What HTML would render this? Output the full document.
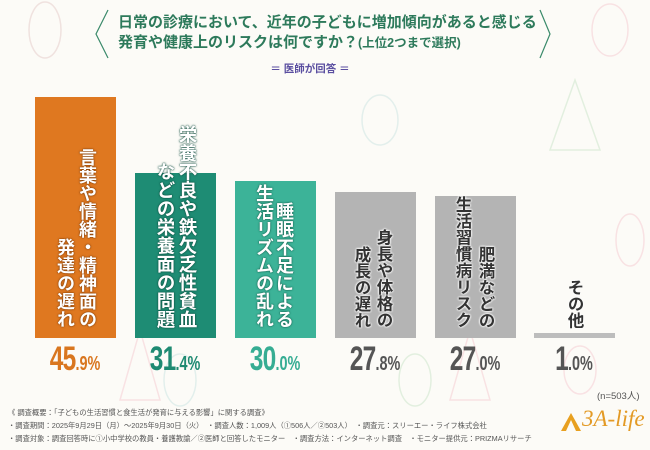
<!DOCTYPE html>
<html><head><meta charset="utf-8"><style>
*{margin:0;padding:0;box-sizing:border-box}
body{width:650px;height:450px;overflow:hidden;background:#fcfbf7;font-family:"Liberation Sans","Noto Sans CJK JP",sans-serif;position:relative}
.a{position:absolute}
.bar{position:absolute;bottom:112px;width:81px}
.vt{position:absolute;writing-mode:vertical-rl;text-align:end;font-weight:bold;white-space:pre;bottom:122px;letter-spacing:0}
.w{color:#fff}
.g{color:#333;text-shadow:0 0 2px #fff,0 0 2px #fff,0 0 2px #fff}
.pc{position:absolute;top:340px;width:100px;text-align:center;font-weight:bold;transform:scaleX(.72);white-space:nowrap}
.pc b{font-size:34px;letter-spacing:-1px}
.pc i{font-style:normal;font-size:20px}
.f{position:absolute;left:8px;font-size:7.3px;color:#555;white-space:nowrap}
</style></head><body>
<svg class="a" style="left:0;top:0" width="650" height="450">
<g fill="none" stroke-width="1.5" opacity=".25">
<ellipse cx="45" cy="30" rx="16" ry="28" stroke="#c99"/>
<ellipse cx="610" cy="30" rx="18" ry="26" stroke="#e9a"/>
<path d="M575 80 L600 150 L550 150Z" stroke="#9c9"/>
<ellipse cx="380" cy="120" rx="18" ry="25" stroke="#9cc"/>
<ellipse cx="630" cy="240" rx="14" ry="26" stroke="#e9a"/>
<path d="M140 330 L160 400 L120 400Z" stroke="#e9a"/>
<ellipse cx="180" cy="380" rx="16" ry="26" stroke="#9cc"/>
<ellipse cx="415" cy="380" rx="16" ry="26" stroke="#9c9"/>
<path d="M470 330 L490 400 L450 400Z" stroke="#e9a"/>
<ellipse cx="580" cy="370" rx="16" ry="24" stroke="#e9a"/>
</g>
<path d="M108 10 L96 34 L108 58" stroke="#3a8a6a" stroke-width="1.2" fill="none"/>
<path d="M540 10 L550 34 L540 58" stroke="#3a8a6a" stroke-width="1.2" fill="none"/>
</svg>
<div class="a" style="left:118px;top:13px;font-size:15px;font-weight:bold;color:#2d7a5b;line-height:20px;white-space:nowrap">日常の診療において、近年の子どもに増加傾向があると感じる<br>発育や健康上のリスクは何ですか？<span style="font-size:12.5px">(上位2つまで選択)</span></div>
<div class="a" style="left:0;width:650px;top:61px;text-align:center;font-size:10.5px;color:#5a4ea0;font-weight:bold;padding-right:30px">＝ 医師が回答 ＝</div>

<div class="bar" style="left:35px;height:241px;background:#df7820"></div>
<div class="bar" style="left:135px;height:165px;background:#1e8c74"></div>
<div class="bar" style="left:235px;height:157px;background:#3cb398"></div>
<div class="bar" style="left:335px;height:146px;background:#b4b4b4"></div>
<div class="bar" style="left:435px;height:142px;background:#b4b4b4"></div>
<div class="bar" style="left:534px;height:5px;background:#bdbdbd"></div>

<div class="vt w" style="right:552px;font-size:18px;line-height:22px;text-shadow:0 0 2px #7a3a08,0 0 1px #7a3a08">言葉や情緒・精神面の
発達の遅れ</div>
<div class="vt w" style="right:452px;font-size:18.5px;line-height:22px;text-shadow:0 0 2px #0d4a3c,0 0 1px #0d4a3c">栄養不良や鉄欠乏性貧血
などの栄養面の問題</div>
<div class="vt w" style="right:356px;font-size:18px;line-height:20px;text-shadow:0 0 2px #16614f,0 0 1px #16614f">睡眠不足による
生活リズムの乱れ</div>
<div class="vt g" style="right:256px;font-size:16.5px;line-height:22px">身長や体格の
成長の遅れ</div>
<div class="vt g" style="right:154px;font-size:16.5px;line-height:23px">肥満などの
生活習慣病リスク</div>
<div class="vt g" style="right:66px;font-size:16.5px;line-height:20px">その他</div>

<div class="pc" style="left:25px;color:#d9761f"><b>45</b><i>.9%</i></div>
<div class="pc" style="left:125px;color:#1e8a72"><b>31</b><i>.4%</i></div>
<div class="pc" style="left:225px;color:#36ad93"><b>30</b><i>.0%</i></div>
<div class="pc" style="left:325px;color:#555"><b>27</b><i>.8%</i></div>
<div class="pc" style="left:425px;color:#555"><b>27</b><i>.0%</i></div>
<div class="pc" style="left:524px;color:#555"><b>1</b><i>.0%</i></div>

<div class="a" style="left:597px;top:388px;font-size:9.5px;color:#555">(n=503人)</div>
<div class="f" style="top:408px">《 調査概要：「子どもの生活習慣と食生活が発育に与える影響」に関する調査》</div>
<div class="f" style="top:421px">・調査期間：2025年9月29日（月）～2025年9月30日（火）　・調査人数：1,009人（①506人／②503人）　・調査元：スリーエー・ライフ株式会社</div>
<div class="f" style="top:434px">・調査対象：調査回答時に①小中学校の教員・養護教諭／②医師と回答したモニター　・調査方法：インターネット調査　・モニター提供元：PRIZMAリサーチ</div>
<svg class="a" style="left:560px;top:412px" width="22" height="20"><path d="M11 1 L21 19 L1 19Z" fill="#e8a020"/><path d="M11 8 L16 19 L6 19Z" fill="#fcfbf7"/></svg>
<div class="a" style="left:582px;top:406px;font-family:'Liberation Serif',serif;font-style:italic;font-size:23px;color:#e39a25">3A-life</div>
</body></html>
